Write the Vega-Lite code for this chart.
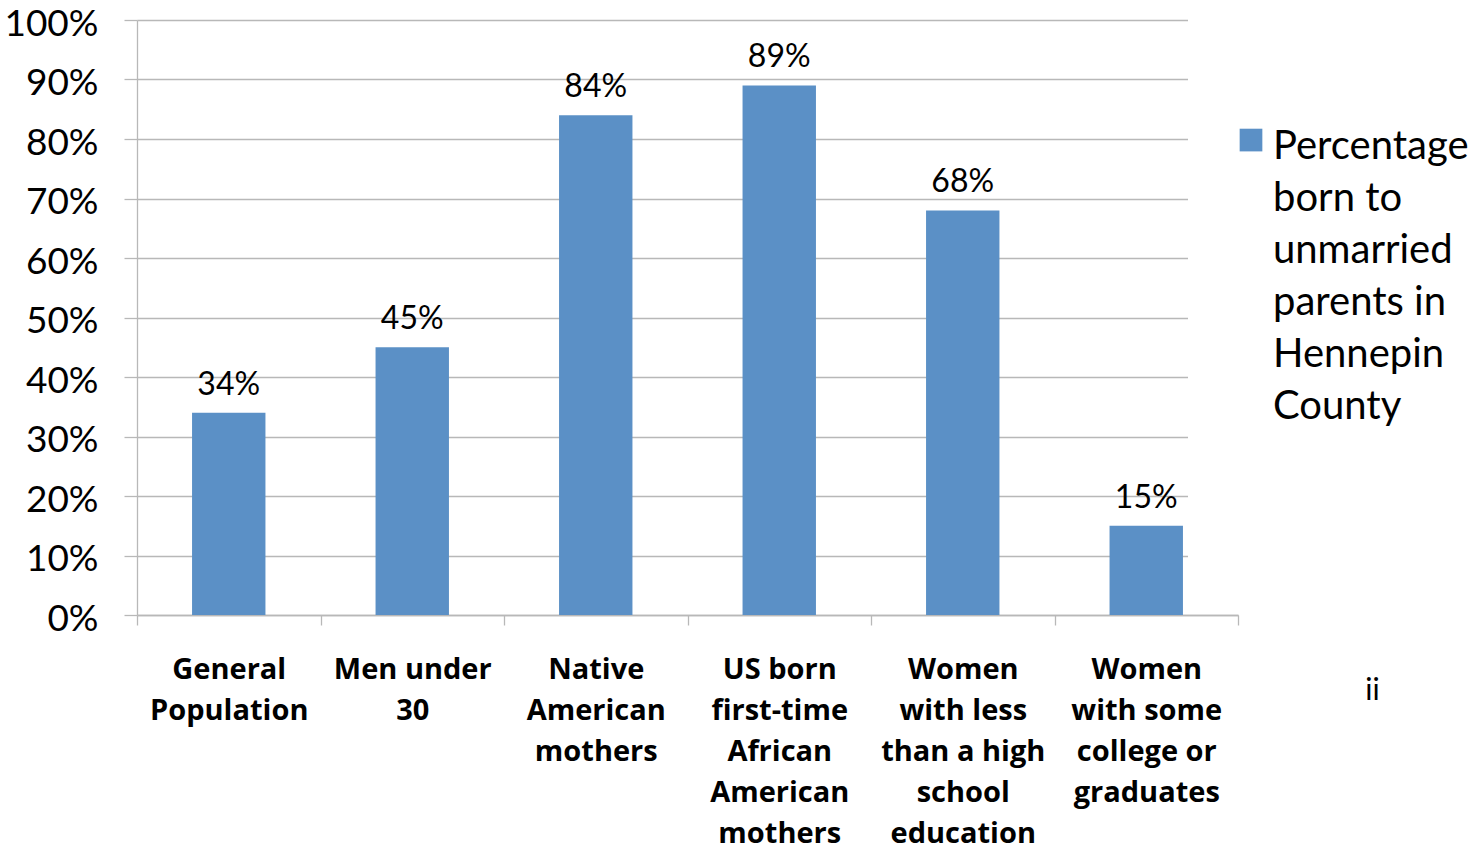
{
  "$schema": "https://vega.github.io/schema/vega-lite/v6.json",
  "width": 1101,
  "height": 595,
  "autosize": {"type": "none"},
  "padding": {"left": 137, "top": 20, "right": 234, "bottom": 229},
  "background": "white",
  "config": {
    "view": {"stroke": null},
    "font": "Lato",
    "style": {"guide-label": {"lineHeight": 52}}
  },
  "data": {
    "values": [
      {"group": "General|Population", "value": 0.34},
      {"group": "Men under|30", "value": 0.45},
      {"group": "Native|American|mothers", "value": 0.84},
      {"group": "US born|first-time|African|American|mothers", "value": 0.89},
      {"group": "Women|with less|than a high|school|education", "value": 0.68},
      {"group": "Women|with some|college or|graduates", "value": 0.15}
    ]
  },
  "encoding": {
    "x": {
      "field": "group",
      "type": "nominal",
      "sort": null,
      "scale": {"paddingInner": 0, "paddingOuter": 0},
      "axis": {
        "title": "ii",
        "titleX": 1235,
        "titleY": 75,
        "titleFontSize": 30,
        "titleFontWeight": "normal",
        "titleFont": "Lato",
        "titleColor": "black",
        "titleAlign": "center",
        "titleBaseline": "middle",
        "labelAngle": 0,
        "labelExpr": "split(datum.label, '|')",
        "labelFont": "Open Sans",
        "labelFontSize": 29,
        "labelFontWeight": "bold",
        "labelColor": "black",
        "labelLineHeight": 41,
        "labelPadding": 30,
        "labelLimit": 400,
        "labelOverlap": false,
        "tickSize": 10,
        "tickBand": "extent",
        "tickColor": "#b8b8b8",
        "tickWidth": 1.3,
        "domainColor": "#b8b8b8",
        "domainWidth": 1.3,
        "grid": false
      }
    },
    "y": {
      "field": "value",
      "type": "quantitative",
      "scale": {"domain": [0, 1]},
      "axis": {
        "title": null,
        "values": [0, 0.1, 0.2, 0.3, 0.4, 0.5, 0.6, 0.7, 0.8, 0.9, 1],
        "format": ".0%",
        "labelFont": "Lato",
        "labelFontSize": 37,
        "labelColor": "black",
        "labelPadding": 26,
        "labelOffset": 4,
        "tickSize": 13,
        "tickColor": "#b8b8b8",
        "tickWidth": 1.3,
        "domainColor": "#b8b8b8",
        "domainWidth": 1.3,
        "grid": true,
        "gridColor": "#b8b8b8",
        "gridWidth": 1.3
      }
    }
  },
  "layer": [
    {
      "mark": {"type": "bar", "width": {"band": 0.4}},
      "encoding": {
        "color": {
          "datum": "Percentage born to unmarried parents in Hennepin County",
          "scale": {"range": ["#5b90c6"]},
          "legend": {
            "orient": "none",
            "legendX": 1051,
            "legendY": -5,
            "padding": 43,
            "fillColor": "white",
            "strokeColor": null,
            "title": " ",
            "titleFontSize": 10,
            "titlePadding": 39,
            "symbolType": "M-1,0.15H1V2.15H-1Z",
            "symbolSize": 515,
            "symbolStrokeWidth": 0,
            "labelFont": "Lato",
            "labelFontSize": 40,
            "labelColor": "black",
            "labelOffset": 2,
            "labelBaseline": "top",
            "labelLimit": 400,
            "labelExpr": "['Percentage','born to','unmarried','parents in','Hennepin','County','','']"
          }
        }
      }
    },
    {
      "mark": {"type": "text", "dy": -18, "baseline": "alphabetic", "fontSize": 32, "font": "Lato", "color": "black"},
      "encoding": {"text": {"field": "value", "type": "quantitative", "format": ".0%"}}
    }
  ]
}
